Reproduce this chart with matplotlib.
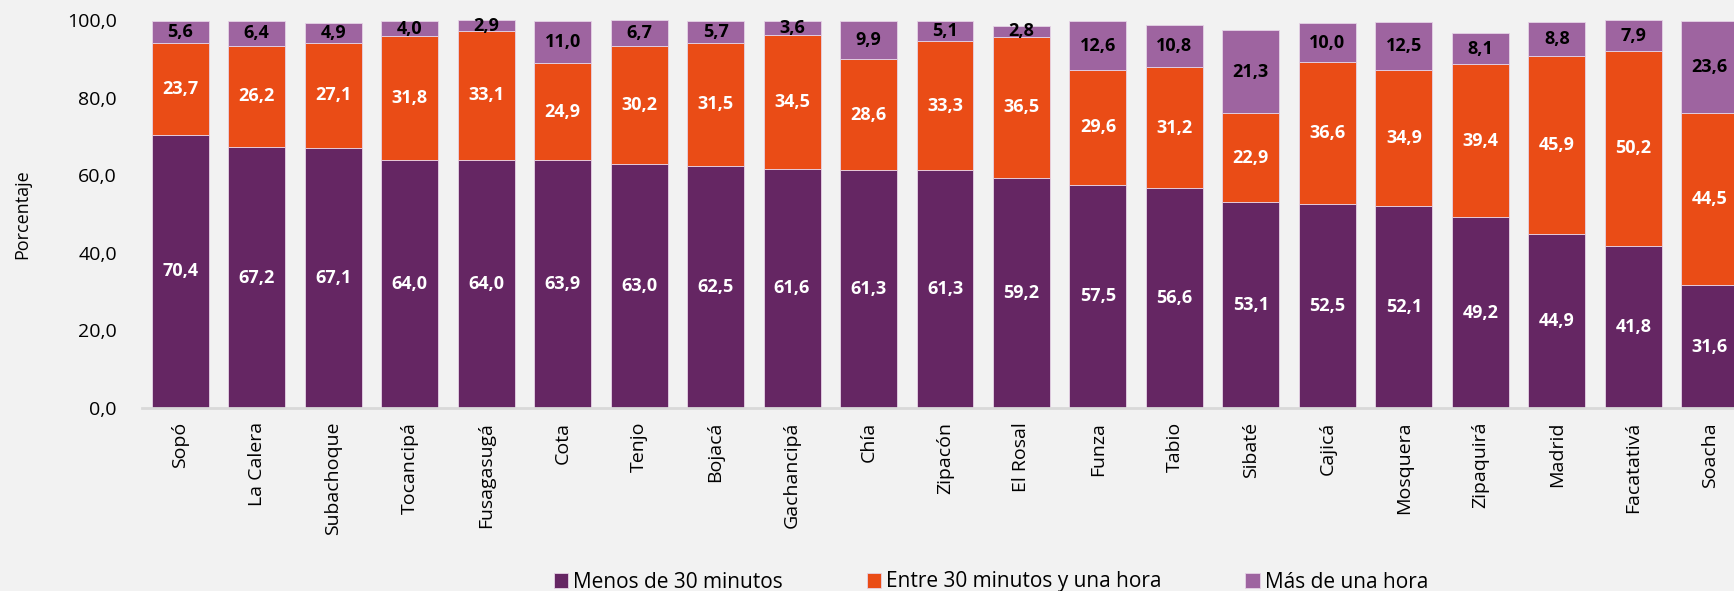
import matplotlib
matplotlib.use("Agg")
import matplotlib.pyplot as plt
import numpy as np

categories = ["Sopó", "La Calera", "Subachoque", "Tocancipá", "Fusagasugá", "Cota",
              "Tenjo", "Bojacá", "Gachancipá", "Chía", "Zipacón", "El Rosal", "Funza",
              "Tabio", "Sibaté", "Cajicá", "Mosquera", "Zipaquirá", "Madrid",
              "Facatativá", "Soacha"]
menos30 = [70.4, 67.2, 67.1, 64.0, 64.0, 63.9, 63.0, 62.5, 61.6, 61.3, 61.3, 59.2,
           57.5, 56.6, 53.1, 52.5, 52.1, 49.2, 44.9, 41.8, 31.6]
entre30_60 = [23.7, 26.2, 27.1, 31.8, 33.1, 24.9, 30.2, 31.5, 34.5, 28.6, 33.3, 36.5,
              29.6, 31.2, 22.9, 36.6, 34.9, 39.4, 45.9, 50.2, 44.5]
mas60 = [5.6, 6.4, 4.9, 4.0, 2.9, 11.0, 6.7, 5.7, 3.6, 9.9, 5.1, 2.8, 12.6, 10.8,
         21.3, 10.0, 12.5, 8.1, 8.8, 7.9, 23.6]
series_names = ["Menos de 30 minutos", "Entre 30 minutos y una hora", "Más de una hora"]
yticks = [0, 20, 40, 60, 80, 100]

colors = ["#652663", "#ea4c16", "#9e64a0"]
label_colors = ["white", "white", "black"]
bg = "#f2f2f2"

plt.rcParams['font.family'] = ['Open Sans', 'DejaVu Sans']

fig = plt.figure(figsize=(17.34, 5.91), dpi=100, facecolor=bg)
ax = fig.add_axes([142/1734, 183/591, (1748-142)/1734, (591-20-183)/591])
ax.set_facecolor(bg)

x = np.arange(len(categories))
bottom = np.zeros(len(categories))
for vals, col, lc, name in zip([menos30, entre30_60, mas60], colors, label_colors, series_names):
    vals = np.array(vals)
    ax.bar(x, vals, width=0.745, bottom=bottom, color=col, edgecolor="#e6d3e6",
           linewidth=0.6, label=name)
    for xi, b, v in zip(x, bottom, vals):
        ax.text(xi, b + v / 2, f"{v:.1f}".replace(".", ","), ha="center", va="center",
                color=lc, fontsize=13, fontweight="bold")
    bottom = bottom + vals

ax.set_xlim(-0.5, len(categories) - 0.5)
ax.set_ylim(0, 100)
ax.set_yticks(yticks)
ax.set_yticklabels([f"{t:.1f}".replace(".", ",") for t in yticks], fontsize=14)
ax.set_xticks(x)
ax.set_xticklabels(categories, rotation=90, fontsize=14)
ax.tick_params(axis="both", length=0, pad=10)
ax.tick_params(axis="y", pad=18)
for s in ["top", "right", "left"]:
    ax.spines[s].set_visible(False)
ax.spines["bottom"].set_color("#d9d9d9")
ax.spines["bottom"].set_linewidth(2)
ax.set_ylabel("Porcentaje", fontsize=13)
ax.yaxis.set_label_coords(-0.069, 0.5)

leg = fig.legend(loc="center", bbox_to_anchor=(991/1734, 1 - 582/591), ncol=3,
                 frameon=False, fontsize=15, handlelength=0.7, handleheight=0.7,
                 handletextpad=0.25, columnspacing=4.0)

fig.savefig("out.png", dpi=100, facecolor=bg)
